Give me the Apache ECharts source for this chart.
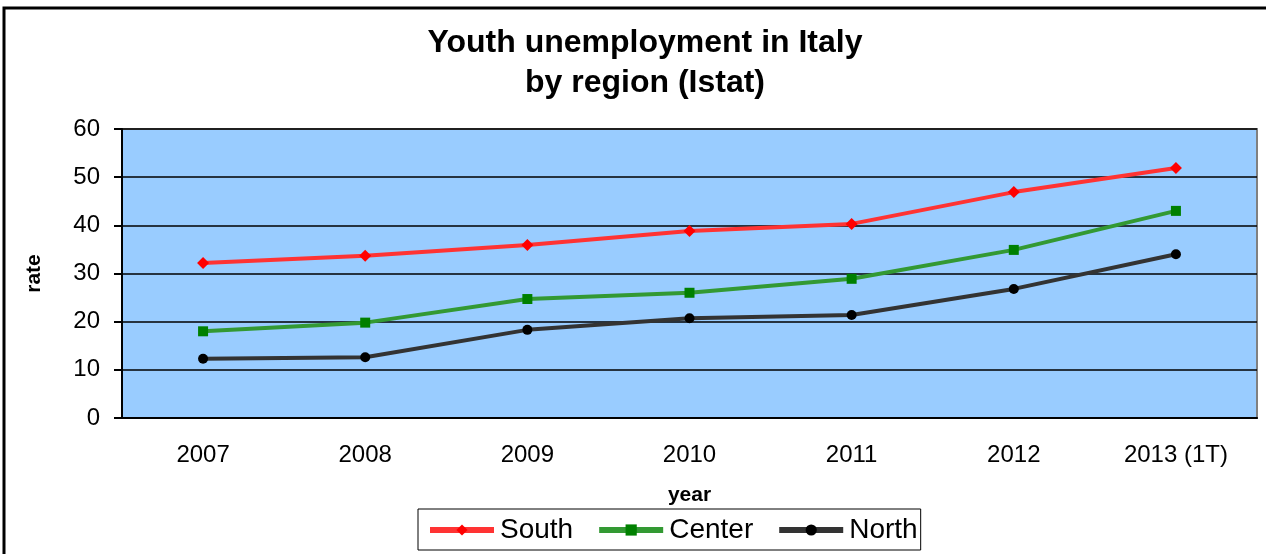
<!DOCTYPE html>
<html>
<head>
<meta charset="utf-8">
<script src="https://cdn.jsdelivr.net/npm/echarts@6/dist/echarts.min.js"></script>
<style>
html, body { margin: 0; padding: 0; background: #fff; }
#chart { width: 1266px; height: 554px; }
</style>
</head>
<body>
<div id="chart"></div>
<script>
// data
var years = ['2007', '2008', '2009', '2010', '2011', '2012', '2013 (1T)'];
var south = [32.2, 33.7, 35.9, 38.8, 40.3, 46.9, 51.9];
var center = [18.0, 19.8, 24.7, 26.0, 28.9, 34.9, 43.0];
var north = [12.3, 12.6, 18.3, 20.7, 21.4, 26.8, 34.0];

var font = 'Arial, "Liberation Sans", sans-serif';

var chart = echarts.init(document.getElementById('chart'));
chart.setOption({
	backgroundColor: '#fff',
	animation: false,
	title: {
		text: 'Youth unemployment in Italy\nby region (Istat)',
		left: 640,
		textAlign: 'center',
		top: 18,
		textStyle: { fontFamily: font, fontSize: 32, fontWeight: 'bold', color: '#000', lineHeight: 40 }
	},
	graphic: [
		{ type: 'polyline', shape: { points: [[4, 554], [4, 8], [1266, 8]] }, style: { stroke: '#000', lineWidth: 3, fill: null } }
	],
	grid: {
		left: 122, right: 9, top: 129, height: 289,
		show: true, backgroundColor: '#99ccff', borderColor: '#808080', borderWidth: 2
	},
	legend: {
		left: 418, top: 509,
		padding: [7, 3, 6, 9],
		itemGap: 23,
		itemWidth: 64, itemHeight: 14,
		borderColor: '#000', borderWidth: 1,
		lineStyle: { width: 6 },
		textStyle: { fontFamily: font, fontSize: 28, color: '#000', padding: [0, 0, 0, 1] },
		data: ['South', 'Center', 'North']
	},
	xAxis: {
		type: 'category',
		data: years,
		name: 'year', nameLocation: 'middle', nameGap: 67,
		nameTextStyle: { fontFamily: font, fontSize: 21, fontWeight: 'bold', color: '#000' },
		axisLine: { lineStyle: { color: '#000', width: 2 } },
		axisTick: { length: 7, lineStyle: { color: '#000', width: 2 } },
		axisLabel: { fontFamily: font, fontSize: 24, color: '#000', margin: 25 },
		splitLine: { show: false }
	},
	yAxis: {
		type: 'value',
		min: 0, max: 60, interval: 10,
		name: 'rate', nameLocation: 'middle', nameGap: 77,
		nameTextStyle: { fontFamily: font, fontSize: 21, fontWeight: 'bold', color: '#000' },
		axisLine: { show: true, lineStyle: { color: '#000', width: 2 } },
		axisTick: { show: true, length: 8, lineStyle: { color: '#000', width: 2 } },
		axisLabel: { fontFamily: font, fontSize: 24, color: '#000', margin: 22 },
		splitLine: { lineStyle: { color: '#000', width: 1.5 } }
	},
	series: [
		{
			name: 'South', type: 'line', data: south,
			symbol: 'diamond', symbolSize: 12,
			lineStyle: { color: '#ff3333', width: 4 },
			itemStyle: { color: '#ff0000' }
		},
		{
			name: 'Center', type: 'line', data: center,
			symbol: 'rect', symbolSize: 10,
			lineStyle: { color: '#339933', width: 4 },
			itemStyle: { color: '#008000' }
		},
		{
			name: 'North', type: 'line', data: north,
			symbol: 'circle', symbolSize: 10,
			lineStyle: { color: '#333333', width: 4 },
			itemStyle: { color: '#000000' }
		}
	]
});
</script>
</body>
</html>
